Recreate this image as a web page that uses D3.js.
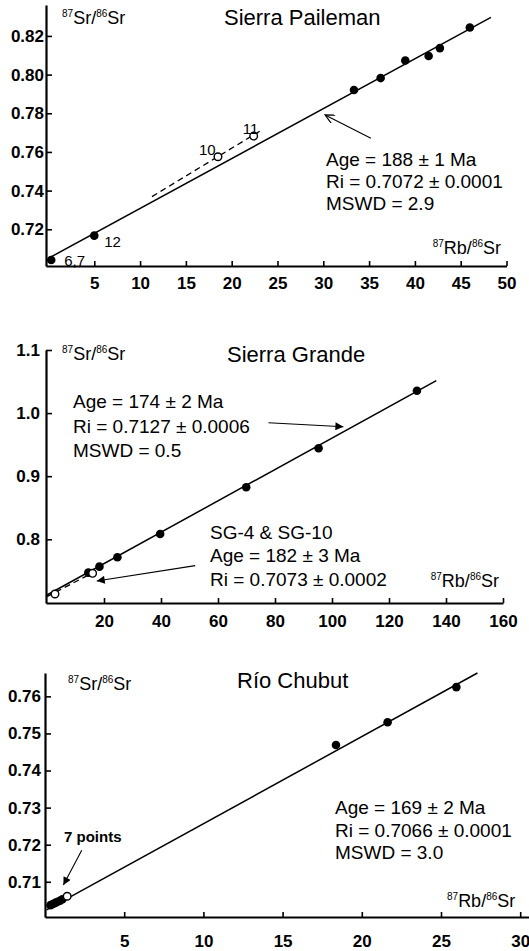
<!DOCTYPE html>
<html>
<head>
<meta charset="utf-8">
<script src="https://cdn.jsdelivr.net/npm/d3@7"></script>
<style>
body { margin: 0; background: #fff; }
text { font-family: "Liberation Sans", Arial, sans-serif; fill: #000; }
.axis path, .axis line { stroke: #000; }
.axis path { stroke-width: 2.2; }
.axis line { stroke-width: 1.6; }
.axis text { font-size: 17px; font-weight: bold; }
</style>
</head>
<body>
<div class="chart"></div>
<script>
// ---- Sierra Paileman
const paiX = [0.3, 5.0, 33.35, 36.26, 38.95, 41.5, 42.73, 46.0];
const paiY = [0.7041, 0.7167, 0.792, 0.7982, 0.8073, 0.8096, 0.8137, 0.8244];
const paiOpenX = [18.5, 22.4];
const paiOpenY = [0.7575, 0.7682];
const paiFit = [[0, 0.705], [48.3, 0.8296]];
const paiDash = [[11.3, 0.7369], [23.4, 0.7717]];
const paiArrow = [[35.2, 0.7671], [30.2, 0.7791]];
const paiXTicks = [5, 10, 15, 20, 25, 30, 35, 40, 45, 50];
const paiYTicks = [0.72, 0.74, 0.76, 0.78, 0.80, 0.82];
const paiText = ['Age = 188 ± 1 Ma', 'Ri = 0.7072 ± 0.0001', 'MSWD = 2.9'];

// ---- Sierra Grande
const sgX = [14.5, 18.4, 24.7, 39.7, 69.9, 95.3, 129.8];
const sgY = [0.7471, 0.7566, 0.7715, 0.8084, 0.8824, 0.9442, 1.0355];
const sgOpenX = [2.8, 16.0];
const sgOpenY = [0.7133, 0.7461];
const sgFit = [[0, 0.7117], [136.6, 1.0514]];
const sgDash = [[0, 0.709], [16.9, 0.749]];
const sgArrow1 = [[77.7, 0.9848], [104.0, 0.9784]];
const sgArrow2 = [[52.0, 0.7582], [17.45, 0.7339]];
const sgXTicks = [20, 40, 60, 80, 100, 120, 140, 160];
const sgYTicks = [0.8, 0.9, 1.0, 1.1];
const sgText = ['Age = 174 ± 2 Ma', 'Ri = 0.7127 ± 0.0006', 'MSWD = 0.5'];
const sgText2 = ['SG-4 & SG-10', 'Age = 182 ± 3 Ma', 'Ri = 0.7073 ± 0.0002'];

// ---- Rio Chubut
const chX = [0.35, 0.5, 0.65, 0.8, 0.95, 1.1, 18.37, 21.63, 25.97];
const chY = [0.7037, 0.7040, 0.7043, 0.7046, 0.7049, 0.7053, 0.7469, 0.7530, 0.7625];
const chOpenX = [1.4];
const chOpenY = [0.7061];
const chFit = [[0.1, 0.7024], [27.3, 0.7663]];
const chArrow = [[2.32, 0.7185], [1.16, 0.7091]];
const chXTicks = [5, 10, 15, 20, 25, 30];
const chYTicks = [0.71, 0.72, 0.73, 0.74, 0.75, 0.76];
const chText = ['Age = 169 ± 2 Ma', 'Ri = 0.7066 ± 0.0001', 'MSWD = 3.0'];

const width = 529, height = 951;
let svg = d3.select('.chart').append('svg')
	.attr('width', width)
	.attr('height', height);

let defs = svg.append('defs');
defs.append('marker').attr('id', 'tri')
	.attr('viewBox', '0 0 10 10').attr('refX', 10).attr('refY', 5)
	.attr('markerWidth', 11).attr('markerHeight', 8)
	.attr('markerUnits', 'userSpaceOnUse').attr('orient', 'auto')
	.append('path').attr('d', 'M0,0 L10,5 L0,10 z').attr('fill', '#000');
defs.append('marker').attr('id', 'vee')
	.attr('viewBox', '0 0 10 10').attr('refX', 10).attr('refY', 5)
	.attr('markerWidth', 11).attr('markerHeight', 9)
	.attr('markerUnits', 'userSpaceOnUse').attr('orient', 'auto')
	.append('path').attr('d', 'M0,0 L10,5 L0,10').attr('fill', 'none')
	.attr('stroke', '#000').attr('stroke-width', 1.4);

// 87Sr/86Sr and 87Rb/86Sr axis names with superscripts
function isoLabel(x, y, top, anchor) {
	const parts = top ? [['87', 1], ['Sr/', 0], ['86', 1], ['Sr', 0]]
		: [['87', 1], ['Rb/', 0], ['86', 1], ['Sr', 0]];
	const t = svg.append('text').attr('x', x).attr('y', y)
		.attr('text-anchor', anchor || 'start')
		.style('font-size', '18px');
	parts.forEach(p => {
		t.append('tspan')
			.attr('dy', p[1] ? -7 : 7)
			.style('font-size', p[1] ? '10px' : '18px')
			.text(p[0]);
	});
}

function block(x, y0, step, lines) {
	lines.forEach((s, i) => {
		svg.append('text').attr('x', x).attr('y', y0 + i * step)
			.style('font-size', '19px').text(s);
	});
}

function panel(o) {
	const x = d3.scaleLinear().domain(o.xd).range(o.xr);
	const y = d3.scaleLinear().domain(o.yd).range(o.yr);
	const g = svg.append('g');

	g.append('g').attr('class', 'axis')
		.attr('transform', 'translate(0,' + o.yr[0] + ')')
		.call(d3.axisBottom(x).tickValues(o.xt).tickSize(-5).tickSizeOuter(0)
			.tickPadding(o.xpad).tickFormat(d3.format('d')));
	g.append('g').attr('class', 'axis')
		.attr('transform', 'translate(' + o.xr[0] + ',0)')
		.call(d3.axisLeft(y).tickValues(o.yt).tickSize(-6).tickSizeOuter(0)
			.tickPadding(o.ypad).tickFormat(d3.format(o.yf)));

	const line = d3.line().x(d => x(d[0])).y(d => y(d[1]));
	g.append('path').attr('d', line(o.fit))
		.attr('fill', 'none').attr('stroke', '#000').attr('stroke-width', 1.5);
	if (o.dash) {
		g.append('path').attr('d', line(o.dash))
			.attr('fill', 'none').attr('stroke', '#000').attr('stroke-width', 1.3)
			.attr('stroke-dasharray', '6,4');
	}
	o.arrows.forEach(a => {
		g.append('line')
			.attr('x1', x(a[0][0])).attr('y1', y(a[0][1]))
			.attr('x2', x(a[1][0])).attr('y2', y(a[1][1]))
			.attr('stroke', '#000').attr('stroke-width', 1.1)
			.attr('marker-end', 'url(#' + o.head + ')');
	});
	g.selectAll('.dot').data(o.px).enter().append('circle')
		.attr('cx', d => x(d)).attr('cy', (d, i) => y(o.py[i]))
		.attr('r', 4.3).attr('fill', '#000');
	g.selectAll('.open').data(o.ox).enter().append('circle')
		.attr('cx', d => x(d)).attr('cy', (d, i) => y(o.oy[i]))
		.attr('r', 3.8).attr('fill', '#fff').attr('stroke', '#000').attr('stroke-width', 1.4);
	return { x: x, y: y };
}

// Sierra Paileman
let p1 = panel({
	xd: [-0.27, 50], xr: [46, 506.5], yd: [0.701, 0.836], yr: [266, 5],
	xt: paiXTicks, yt: paiYTicks, yf: '.2f', xpad: 11, ypad: 2,
	fit: paiFit, dash: paiDash, arrows: [paiArrow], head: 'vee',
	px: paiX, py: paiY, ox: paiOpenX, oy: paiOpenY
});
svg.append('text').attr('x', 224).attr('y', 25).style('font-size', '22px').text('Sierra Paileman');
isoLabel(62, 24, true);
isoLabel(501, 254, false, 'end');
block(326, 166, 22.2, paiText);
[['6,7', 0, 13, 1], ['12', 1, 10, 6], ['10', 0, -19, -7], ['11', 1, -11, -7]].forEach(l => {
	const isOpen = l[0] === '10' || l[0] === '11';
	const xv = isOpen ? paiOpenX[l[1]] : paiX[l[1]];
	const yv = isOpen ? paiOpenY[l[1]] : paiY[l[1]];
	svg.append('text').attr('x', p1.x(xv) + l[2]).attr('y', p1.y(yv) + l[3])
		.style('font-size', '15px').attr('dy', '0.35em').text(l[0]);
});

// Sierra Grande
let p2 = panel({
	xd: [-0.35, 160], xr: [46, 503], yd: [0.699, 1.1], yr: [603, 350],
	xt: sgXTicks, yt: sgYTicks, yf: '.1f', xpad: 12, ypad: 6,
	fit: sgFit, dash: sgDash, arrows: [sgArrow1, sgArrow2], head: 'tri',
	px: sgX, py: sgY, ox: sgOpenX, oy: sgOpenY
});
svg.append('text').attr('x', 227).attr('y', 362).style('font-size', '22px').text('Sierra Grande');
isoLabel(62, 360, true);
isoLabel(499, 587, false, 'end');
block(73, 408, 24.5, sgText);
block(210, 539, 23.4, sgText2);

// Rio Chubut
let p3 = panel({
	xd: [0, 30.6], xr: [45, 529.7], yd: [0.7005, 0.7663], yr: [917, 673],
	xt: chXTicks, yt: chYTicks, yf: '.2f', xpad: 18, ypad: 4,
	fit: chFit, dash: null, arrows: [chArrow], head: 'tri',
	px: chX, py: chY, ox: chOpenX, oy: chOpenY
});
svg.append('text').attr('x', 237).attr('y', 688).style('font-size', '22px').text('Río Chubut');
isoLabel(68, 690, true);
isoLabel(447, 907, false, 'start');
block(335, 814, 22.7, chText);
svg.append('text').attr('x', 64).attr('y', 842)
	.style('font-size', '15px').style('font-weight', 'bold').text('7 points');
</script>
</body>
</html>
